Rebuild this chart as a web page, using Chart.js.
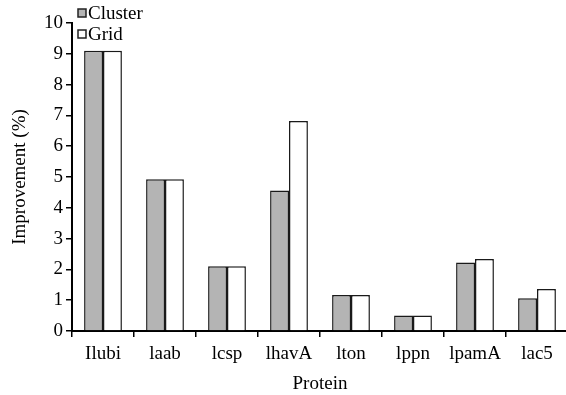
<!DOCTYPE html>
<html>
<head>
<meta charset="utf-8">
<script src="https://cdn.jsdelivr.net/npm/chart.js@4/dist/chart.umd.min.js"></script>
<style>
  html, body { margin: 0; padding: 0; overflow: hidden; background: #fff; }
  #wrap { width: 568px; height: 395px; }
</style>
</head>
<body>
<div id="wrap"><canvas id="imp"></canvas></div>
<script>
let proteins = ['Ilubi', 'laab', 'lcsp', 'lhavA', 'lton', 'lppn', 'lpamA', 'lac5'];
let clusterArr = [9.1, 4.93, 2.1, 4.56, 1.17, 0.5, 2.22, 1.06];
let gridArr = [9.1, 4.93, 2.1, 6.82, 1.17, 0.5, 2.34, 1.36];
let yTicks = [0, 1, 2, 3, 4, 5, 6, 7, 8, 9, 10];

Chart.defaults.font.family = "'Liberation Serif', 'Times New Roman', serif";
Chart.defaults.font.size = 19;
Chart.defaults.color = '#000';

// small legend in the top left corner, above the plot
const cornerLegend = {
    id: 'cornerLegend',
    afterDraw(chart) {
        const c = chart.ctx;
        const a = chart.chartArea;
        c.save();
        c.font = "19px 'Liberation Serif', serif";
        c.textBaseline = 'middle';
        chart.data.datasets.forEach((ds, i) => {
            const y = a.top - 10 + i * 21;
            c.fillStyle = ds.backgroundColor;
            c.fillRect(a.left + 6, y - 4, 8, 8);
            c.strokeStyle = '#222';
            c.lineWidth = 1.5;
            c.strokeRect(a.left + 6, y - 4, 8, 8);
            c.fillStyle = '#000';
            c.fillText(ds.label, a.left + 16, y + 1);
        });
        c.restore();
    }
};

const ctx = document.getElementById('imp').getContext('2d');
const myChart = new Chart(ctx, {
    type: 'bar',
    data: {
        labels: proteins,
        datasets: [
            {
                label: 'Cluster',
                data: clusterArr,
                backgroundColor: '#b4b4b4',
                borderColor: '#1a1a1a',
                borderWidth: 1.5
            },
            {
                label: 'Grid',
                data: gridArr,
                backgroundColor: '#ffffff',
                borderColor: '#1a1a1a',
                borderWidth: 1.5
            }
        ]
    },
    options: {
        responsive: true,
        maintainAspectRatio: false,
        animation: false,
        categoryPercentage: 0.61,
        barPercentage: 1,
        layout: {
            padding: { top: 23, right: 0, left: 0, bottom: 0 }
        },
        scales: {
            y: {
                min: 0,
                max: 10,
                afterFit(scale) { scale.width = 72; },
                afterBuildTicks(scale) { scale.ticks = yTicks.map(v => ({ value: v })); },
                ticks: { padding: 3 },
                grid: { drawOnChartArea: false, tickLength: 6, color: '#000', lineWidth: 1.5 },
                border: { color: '#000', width: 2 },
                title: {
                    display: true,
                    text: 'Improvement (%)',
                    padding: { top: 9, bottom: 0 }
                }
            },
            x: {
                afterFit(scale) { scale.height = 64; },
                ticks: { padding: 6 },
                grid: { drawOnChartArea: false, tickLength: 6, color: '#000', lineWidth: 1.5 },
                border: { color: '#000', width: 2 },
                title: {
                    display: true,
                    text: 'Protein',
                    padding: { top: 4, bottom: 0 }
                }
            }
        },
        plugins: {
            legend: { display: false },
            tooltip: { enabled: false }
        }
    },
    plugins: [cornerLegend]
});
</script>
</body>
</html>
